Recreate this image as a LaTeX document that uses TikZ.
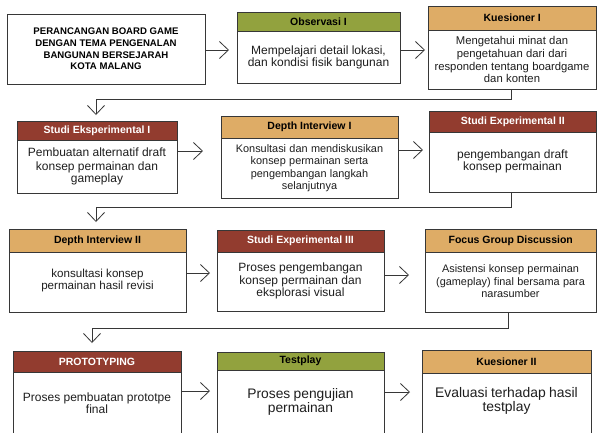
\documentclass[tikz,border=0pt]{standalone}
\usepackage{fontspec}
\setmainfont{Liberation Sans}
\usetikzlibrary{arrows.meta}
\definecolor{hgreen}{RGB}{146,162,62}
\definecolor{htan}{RGB}{222,172,102}
\definecolor{hred}{RGB}{146,60,47}
\definecolor{bord}{RGB}{55,55,55}
\definecolor{txt}{RGB}{30,30,30}
\newcommand\flowbox[8]{%
  \node[box, minimum width={(#4-#2)*1pt}, minimum height={(#5-#3)*1pt}] (#1) at ({(#2+#4)/2},{(#3+#5)/2}) {};
  \node[hdr, #7, minimum width={(#4-#2)*1pt}, minimum height={(#6-#3)*1pt}] (#1h) at (#1.north) {#8};
}
\begin{document}
\begin{tikzpicture}[x=1pt,y=-1pt,
  box/.style={draw=bord, line width=0.9pt, fill=white, inner sep=0pt, outer sep=0pt},
  hdr/.style={draw=bord, line width=0.9pt, inner sep=0pt, outer sep=0pt, anchor=north,
    font=\fontsize{10.5}{12}\selectfont\bfseries},
  hR/.style={fill=hred, text=white},
  hT/.style={fill=htan, text=black},
  hG/.style={fill=hgreen, text=black},
  body/.style={align=center, inner sep=0pt, text=txt},
  conn/.style={draw=bord, line width=0.8pt, -{Straight Barb[length=9pt,width=17pt]}}
]
\useasboundingbox (0,0) rectangle (597,432);
\fill[white] (0,0) rectangle (597,432);
\clip (0,0) rectangle (597,432);

% row 1
\node[box, minimum width=198pt, minimum height=70pt, align=center, text=black,
  font=\fontsize{9.6}{11.7}\selectfont\bfseries] (title) at (106,49)
  {PERANCANGAN BOARD GAME\\DENGAN TEMA PENGENALAN\\BANGUNAN BERSEJARAH\\KOTA MALANG};
\flowbox{obs}{237}{12}{400}{83}{31}{hG}{Observasi I}
\node[body, text width=160pt] (obst) at (318.5,57)
  {\fontsize{12}{13.3}\selectfont Mempelajari detail lokasi,\\dan kondisi fisik bangunan};
\flowbox{kue}{428}{6}{596.5}{89}{30}{hT}{Kuesioner I}
\node[body, text width=166pt] (kuet) at (512,59.5)
  {\fontsize{11.3}{12.7}\selectfont Mengetahui minat dan\\pengetahuan dari dari\\responden tentang boardgame\\dan konten};

% row 2
\flowbox{sea}{17}{121}{177}{193}{140}{hR}{Studi Eksperimental I}
\node[body, text width=158pt] (seat) at (97,166.5)
  {\fontsize{12}{13.3}\selectfont Pembuatan alternatif draft\\konsep permainan dan\\gameplay};
\flowbox{dia}{221}{116}{398}{198}{138}{hT}{Depth Interview I}
\node[body, text width=175pt] (diat) at (309.5,168)
  {\fontsize{10.9}{12.3}\selectfont Konsultasi dan mendiskusikan\\konsep permainan serta\\pengembangan langkah\\selanjutnya};
\flowbox{seb}{429}{111}{596.5}{192}{132}{hR}{Studi Experimental II}
\node[body, text width=165pt] (sebt) at (512.5,161)
  {\fontsize{12}{13.3}\selectfont pengembangan draft\\konsep permainan};

% row 3
\flowbox{dib}{9}{229}{186}{312}{252}{hT}{Depth Interview II}
\node[body, text width=175pt] (dibt) at (97.5,280)
  {\fontsize{11.6}{13.7}\selectfont konsultasi konsep\\permainan hasil revisi};
\flowbox{sec}{217}{230}{384}{311}{252}{hR}{Studi Experimental III}
\node[body, text width=165pt] (sect) at (300.5,281)
  {\fontsize{12}{13.3}\selectfont Proses pengembangan\\konsep permainan dan\\eksplorasi visual};
\flowbox{fgd}{425}{229}{596.5}{312}{252}{hT}{Focus Group Discussion}
\node[body, text width=170pt] (fgdt) at (510.5,281)
  {\fontsize{10.9}{12.3}\selectfont Asistensi konsep permainan\\(gameplay) final bersama para\\narasumber};

% row 4
\flowbox{pro}{13}{351}{181}{445}{372}{hR}{PROTOTYPING}
\node[body, text width=166pt] (prot) at (97,403)
  {\fontsize{12}{13.3}\selectfont Proses pembuatan prototpe\\final};
\flowbox{tes}{217}{352}{384}{445}{370}{hG}{Testplay}
\node[body, text width=165pt] (test) at (300.5,402)
  {\fontsize{13.8}{16.5}\selectfont Proses pengujian\\permainan};
\flowbox{kub}{422}{350}{591}{445}{373}{hT}{Kuesioner II}
\node[body, text width=167pt] (kubt) at (506.5,401)
  {\fontsize{13.9}{17}\selectfont Evaluasi terhadap hasil\\testplay};

% connectors
\coordinate (k1) at (96,99);
\coordinate (k2) at (96,207);
\coordinate (k3) at (92,328);
\draw[conn, shorten >=8pt] (title.east |- 0,50) -- (obs.west |- 0,50);
\draw[conn, shorten >=3pt] (obs.east |- 0,50) -- (kue.west |- 0,50);
\draw[conn, shorten >=6pt] ([xshift=-1pt]kue.south) |- (k1) -- (k1 |- sea.north);
\draw[conn, shorten >=18pt] (sea.east |- 0,151) -- (dia.west |- 0,151);
\draw[conn, shorten >=6pt] (dia.east |- 0,150) -- (seb.west |- 0,150);
\draw[conn, shorten >=7pt] ([xshift=-1.75pt]seb.south) |- (k2) -- (k2 |- dib.north);
\draw[conn, shorten >=7pt] (dib.east |- 0,273) -- (sec.west |- 0,273);
\draw[conn, shorten >=16pt] (sec.east |- 0,275) -- (fgd.west |- 0,275);
\draw[conn, shorten >=8pt] ([xshift=-2.75pt]fgd.south) |- (k3) -- (k3 |- pro.north);
\draw[conn, shorten >=7pt] (pro.east |- 0,391) -- (tes.west |- 0,391);
\draw[conn, shorten >=12pt] (tes.east |- 0,392) -- (kub.west |- 0,392);
\end{tikzpicture}
\end{document}
